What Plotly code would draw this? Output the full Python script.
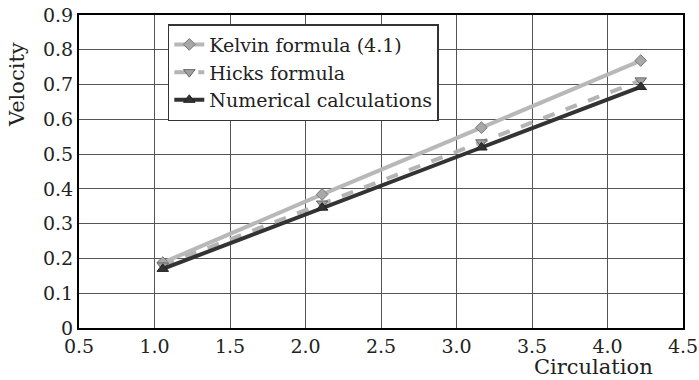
import plotly.graph_objects as go

circulation = [1.055, 2.11, 3.165, 4.22]
kelvin = [0.188, 0.384, 0.576, 0.769]
hicks = [0.180, 0.358, 0.534, 0.712]
numerical = [0.170, 0.346, 0.519, 0.693]

x_ticks = [0.5, 1.0, 1.5, 2.0, 2.5, 3.0, 3.5, 4.0, 4.5]
y_ticks = [0, 0.1, 0.2, 0.3, 0.4, 0.5, 0.6, 0.7, 0.8, 0.9]
y_labels = ["0", "0.1", "0.2", "0.3", "0.4", "0.5", "0.6", "0.7", "0.8", "0.9"]

FONT = "DejaVu Serif"

fig = go.Figure()
fig.add_trace(go.Scatter(
    x=circulation, y=kelvin, mode="lines+markers", name="Kelvin formula (4.1)",
    line=dict(color="#b8b8b8", width=4),
    marker=dict(symbol="diamond", size=9, color="#a8a8a8", line=dict(color="#777777", width=1)),
))
fig.add_trace(go.Scatter(
    x=circulation, y=hicks, mode="lines+markers", name="Hicks formula",
    line=dict(color="#b4b4b4", width=4, dash="dash"),
    marker=dict(symbol="triangle-down", size=10, color="#a0a0a0", line=dict(color="#666666", width=1)),
))
fig.add_trace(go.Scatter(
    x=circulation, y=numerical, mode="lines+markers", name="Numerical calculations",
    line=dict(color="#333333", width=4),
    marker=dict(symbol="triangle-up", size=10, color="#333333", line=dict(color="#222222", width=1)),
))

axis_common = dict(
    showgrid=True, gridcolor="#555555", gridwidth=1,
    showline=True, linecolor="black", linewidth=2, mirror=True,
    ticks="", zeroline=False, automargin=False,
    tickfont=dict(family=FONT, size=19, color="#222222"),
)

fig.update_layout(
    width=699, height=380,
    margin=dict(l=79, r=16, t=15, b=52),
    paper_bgcolor="white", plot_bgcolor="white",
    font=dict(family=FONT, size=19, color="#222222"),
    xaxis=dict(range=[0.5, 4.5], tickvals=x_ticks, ticktext=[str(v) for v in x_ticks], **axis_common),
    yaxis=dict(range=[0, 0.9], tickvals=y_ticks, ticktext=y_labels, **axis_common),
    showlegend=True,
    legend=dict(
        x=0.147, y=0.971, xanchor="left", yanchor="top",
        bgcolor="white", bordercolor="#333333", borderwidth=1.5,
        font=dict(family=FONT, size=19, color="#222222"),
        tracegroupgap=0, itemwidth=30,
    ),
    annotations=[
        dict(text="Circulation", xref="paper", yref="paper", x=0.954, y=0,
             xanchor="right", yanchor="middle", yshift=-39, showarrow=False,
             font=dict(family=FONT, size=21, color="#222222")),
        dict(text="Velocity", xref="paper", yref="paper", x=0, y=0.776,
             xanchor="center", yanchor="middle", xshift=-62,
             textangle=-90, showarrow=False,
             font=dict(family=FONT, size=21, color="#222222")),
    ],
)

fig.write_html("out.html", config={"displayModeBar": False},
               post_script="document.body.style.margin='0';document.body.style.padding='0';")
